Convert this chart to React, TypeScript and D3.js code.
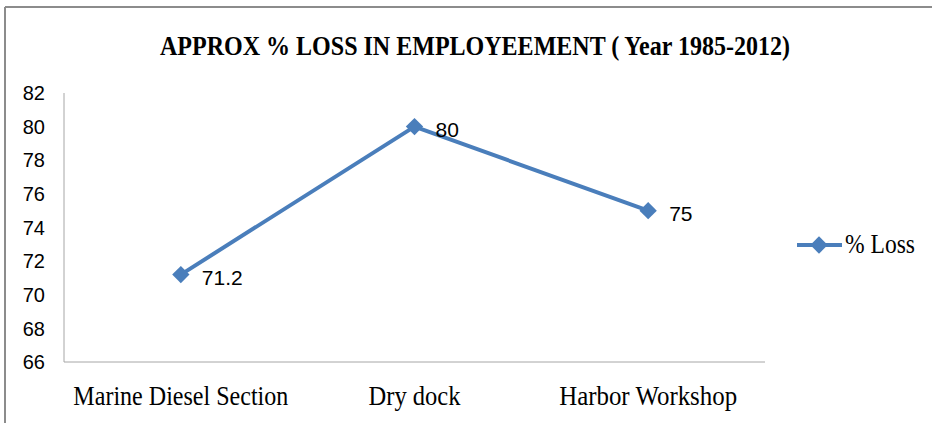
import * as d3 from 'd3'

const W = 932
const H = 423

const categories = ['Marine Diesel Section', 'Dry dock', 'Harbor Workshop']
const lossValues = [71.2, 80, 75]
const valueLabels = ['71.2', '80', '75']
const yTicks = [66, 68, 70, 72, 74, 76, 78, 80, 82]
const seriesName = '% Loss'
const title = 'APPROX % LOSS IN EMPLOYEEMENT ( Year 1985-2012)'

const PLOT = { left: 64, right: 765, top: 93, bottom: 362 }
const LINE_COLOR = '#4a7ebb'
const AXIS_COLOR = '#a6a6a6'
const SANS = '"Liberation Sans", Arial, sans-serif'
const SERIF = '"Liberation Serif", "Times New Roman", serif'

// square diamond marker (rotated square)
const marker = d3.symbol().type(d3.symbolSquare).size(150)

// category label widths in the picture (condensed serif)
const catWidths = [215, 92, 178]

export default function App() {
  const x = d3.scaleBand<string>().domain(categories).range([PLOT.left, PLOT.right])
  const y = d3.scaleLinear().domain([66, 82]).range([PLOT.bottom, PLOT.top])
  const cx = (c: string) => (x(c) ?? 0) + x.bandwidth() / 2

  const line = d3.line<number>()
    .x((_, i) => cx(categories[i]))
    .y(d => y(d))

  return (
    <svg width={W} height={H} style={{ position: 'absolute', left: 0, top: 0, background: '#fff' }}>
      {/* Outer frame (top and left edges visible) */}
      <line x1={5} y1={7} x2={W} y2={7} stroke="#8c8c8c" strokeWidth={2} />
      <line x1={5} y1={7} x2={5} y2={H} stroke="#8c8c8c" strokeWidth={2} />

      <text x={160} y={55} textLength={630} lengthAdjust="spacingAndGlyphs"
        fontFamily={SERIF} fontWeight="bold" fontSize={27} fill="#000">{title}</text>

      {/* Axes */}
      <line x1={PLOT.left} y1={PLOT.top} x2={PLOT.left} y2={PLOT.bottom} stroke={AXIS_COLOR} strokeWidth={1} />
      <line x1={PLOT.left} y1={PLOT.bottom} x2={PLOT.right} y2={PLOT.bottom} stroke={AXIS_COLOR} strokeWidth={1} />

      {yTicks.map(t => (
        <text key={t} x={45} y={y(t)} dy="0.36em" textAnchor="end"
          fontFamily={SANS} fontSize={20} fill="#000">{t}</text>
      ))}

      {categories.map((c, i) => (
        <text key={c} x={cx(c) - catWidths[i] / 2} y={405} textLength={catWidths[i]}
          lengthAdjust="spacingAndGlyphs" fontFamily={SERIF} fontSize={28} fill="#000">{c}</text>
      ))}

      <path d={line(lossValues) ?? ''} fill="none" stroke={LINE_COLOR} strokeWidth={4}
        strokeLinejoin="round" />

      {lossValues.map((v, i) => (
        <g key={i}>
          <path d={marker() ?? ''} transform={`translate(${cx(categories[i])},${y(v)}) rotate(45)`} fill={LINE_COLOR} />
          <text x={cx(categories[i]) + 21} y={y(v)} dy="0.5em"
            fontFamily={SANS} fontSize={21} fill="#000">{valueLabels[i]}</text>
        </g>
      ))}

      {/* Legend */}
      <line x1={797} y1={245} x2={842} y2={245} stroke={LINE_COLOR} strokeWidth={4} />
      <path d={marker() ?? ''} transform="translate(819,245) rotate(45)" fill={LINE_COLOR} />
      <text x={845} y={253} textLength={70} lengthAdjust="spacingAndGlyphs"
        fontFamily={SERIF} fontSize={27} fill="#000">{seriesName}</text>
    </svg>
  )
}
